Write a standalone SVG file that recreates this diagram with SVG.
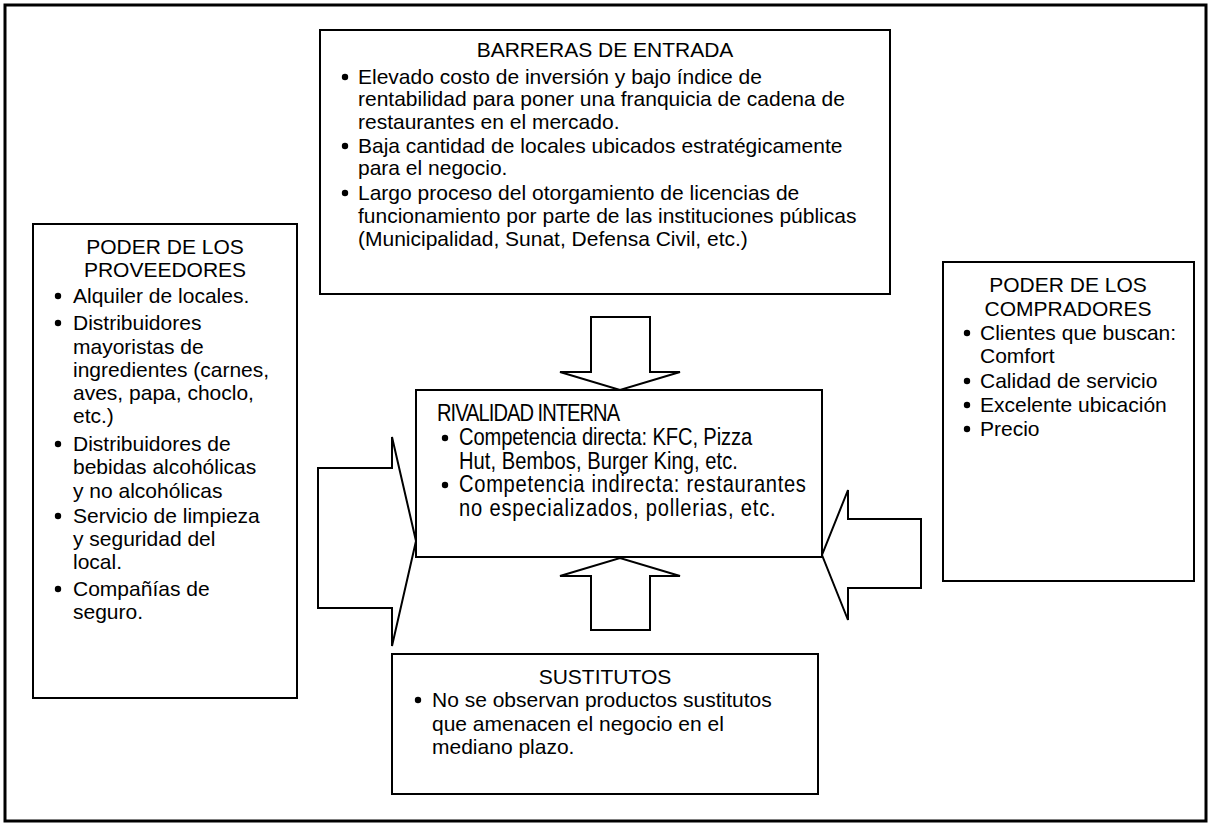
<svg xmlns="http://www.w3.org/2000/svg" width="1209" height="823" viewBox="0 0 1209 823">
<style>
.box{fill:#fff;stroke:#000;stroke-width:2}
.arr{fill:#fff;stroke:#000;stroke-width:2;stroke-linejoin:miter}
text{font-family:"Liberation Sans",Arial,sans-serif;font-size:21px;fill:#000}
.n{font-size:24px}
.c{text-anchor:middle}
</style>
<defs><circle id="b" r="3.2" fill="#000"/></defs>
<rect x="5" y="5" width="1201" height="816" fill="#fff" stroke="#000" stroke-width="3"/>
<g id="connectors">
<path class="arr" d="M591,317 H650 V372 H680 L620,390 L560,372 H591 Z"/>
<path class="arr" d="M591,630 H650 V576 H680 L620,558 L560,576 H591 Z"/>
<path class="arr" d="M318,468 H392 V437 L416,541 L392,646 V608 H318 Z"/>
<path class="arr" d="M921,519 H848 V490 L822,555 L848,620 V588 H921 Z"/>
</g>
<g id="barreras">
<rect class="box" x="320" y="30" width="570" height="264"/>
<text class="c" x="605" y="57">BARRERAS DE ENTRADA</text>
<use href="#b" x="345" y="77"/>
<text x="358" y="84">Elevado costo de inversión y bajo índice de</text>
<text x="358" y="106">rentabilidad para poner una franquicia de cadena de</text>
<text x="358" y="129">restaurantes en el mercado.</text>
<use href="#b" x="345" y="146"/>
<text x="358" y="153">Baja cantidad de locales ubicados estratégicamente</text>
<text x="358" y="175">para el negocio.</text>
<use href="#b" x="345" y="193"/>
<text x="358" y="200">Largo proceso del otorgamiento de licencias de</text>
<text x="358" y="223">funcionamiento por parte de las instituciones públicas</text>
<text x="358" y="246">(Municipalidad, Sunat, Defensa Civil, etc.)</text>
</g>
<g id="proveedores">
<rect class="box" x="33" y="224" width="264" height="474"/>
<text class="c" x="165" y="254">PODER DE LOS</text>
<text class="c" x="165" y="277">PROVEEDORES</text>
<use href="#b" x="58" y="296"/>
<text x="73" y="303">Alquiler de locales.</text>
<use href="#b" x="58" y="323"/>
<text x="73" y="330">Distribuidores</text>
<text x="73" y="354">mayoristas de</text>
<text x="73" y="377">ingredientes (carnes,</text>
<text x="73" y="400">aves, papa, choclo,</text>
<text x="73" y="423">etc.)</text>
<use href="#b" x="58" y="444"/>
<text x="73" y="451">Distribuidores de</text>
<text x="73" y="474">bebidas alcohólicas</text>
<text x="73" y="498">y no alcohólicas</text>
<use href="#b" x="58" y="516"/>
<text x="73" y="523">Servicio de limpieza</text>
<text x="73" y="546">y seguridad del</text>
<text x="73" y="569">local.</text>
<use href="#b" x="58" y="589"/>
<text x="73" y="596">Compañías de</text>
<text x="73" y="619">seguro.</text>
</g>
<g id="rivalidad">
<rect class="box" x="416" y="390" width="406" height="167"/>
<text class="n" transform="matrix(0.84,0,0,1,437,421)" textLength="218" lengthAdjust="spacing">RIVALIDAD INTERNA</text>
<use href="#b" x="445" y="438"/>
<text class="n" transform="matrix(0.84,0,0,1,459,445)" textLength="349" lengthAdjust="spacing">Competencia directa: KFC, Pizza</text>
<text class="n" transform="matrix(0.84,0,0,1,459,469)" textLength="332" lengthAdjust="spacing">Hut, Bembos, Burger King, etc.</text>
<use href="#b" x="445" y="485"/>
<text class="n" transform="matrix(0.84,0,0,1,459,492)" textLength="413" lengthAdjust="spacing">Competencia indirecta: restaurantes</text>
<text class="n" transform="matrix(0.84,0,0,1,459,516)" textLength="377" lengthAdjust="spacing">no especializados, pollerias, etc.</text>
</g>
<g id="compradores">
<rect class="box" x="943" y="262" width="251" height="319"/>
<text class="c" x="1068" y="292">PODER DE LOS</text>
<text class="c" x="1068" y="316">COMPRADORES</text>
<use href="#b" x="967" y="333"/>
<text x="980" y="340">Clientes que buscan:</text>
<text x="980" y="363">Comfort</text>
<use href="#b" x="967" y="381"/>
<text x="980" y="388">Calidad de servicio</text>
<use href="#b" x="967" y="405"/>
<text x="980" y="412">Excelente ubicación</text>
<use href="#b" x="967" y="429"/>
<text x="980" y="436">Precio</text>
</g>
<g id="sustitutos">
<rect class="box" x="392" y="654" width="426" height="140"/>
<text class="c" x="605" y="684">SUSTITUTOS</text>
<use href="#b" x="418" y="700"/>
<text x="432" y="707">No se observan productos sustitutos</text>
<text x="432" y="731">que amenacen el negocio en el</text>
<text x="432" y="754">mediano plazo.</text>
</g>
</svg>
